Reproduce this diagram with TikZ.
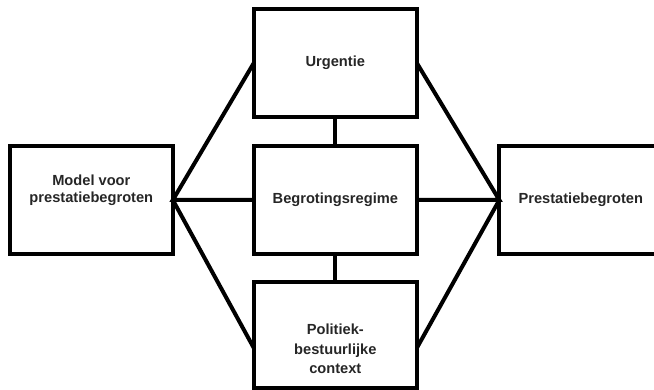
\documentclass[tikz,border=0pt]{standalone}
\usepackage{fontspec}
\setmainfont{Liberation Sans}
\usetikzlibrary{positioning}
\tikzset{
	words/.style={
		align=center,
		text=black!85,
		font=\fontsize{12.5}{14.5}\selectfont\bfseries
	},
	block/.style={
		rectangle,
		draw,
		words,
		line width=0.12cm,
		outer sep=0pt,
		minimum width=4.89cm,
		minimum height=3.24cm
	},
	link/.style={line width=0.12cm}
}

\begin{document}
\begin{tikzpicture}[node distance=0.87cm and 2.43cm]
			\clip (0,0) rectangle (19.62,-11.7);
			\node [block] (regime) at (10.06,-6.0) {Begrotingsregime};
			\node [block, above=of regime] (urgentie) {Urgentie};
			\node [block, below=0.84cm of regime, minimum height=3.18cm, label={[words, font=\fontsize{12.5}{16.5}\selectfont\bfseries, yshift=-0.42cm]center:{Politiek-\\bestuurlijke\\context}}] (context) {};
			\node [block, left=of regime, label={[words, yshift=0.28cm]center:{Model voor\\prestatiebegroten}}] (model) {};
			\node [block, right=2.475cm of regime] (doel) {Prestatiebegroten};
			% aanhechtpunten onderste blok
			\coordinate (cw) at ([yshift=-0.39cm]context.west);
			\coordinate (ce) at ([yshift=-0.39cm]context.east);
			\draw [link] (urgentie.south) -- (regime.north);
			\draw [link] (regime.south) -- (context.north);
			\draw [link] (urgentie.west) -- (model.east) -- (regime.west);
			\draw [link] (model.east) -- (cw);
			\draw [link] (urgentie.east) -- (doel.west) -- (regime.east);
			\draw [link] (doel.west) -- (ce);
		\end{tikzpicture}
\end{document}
